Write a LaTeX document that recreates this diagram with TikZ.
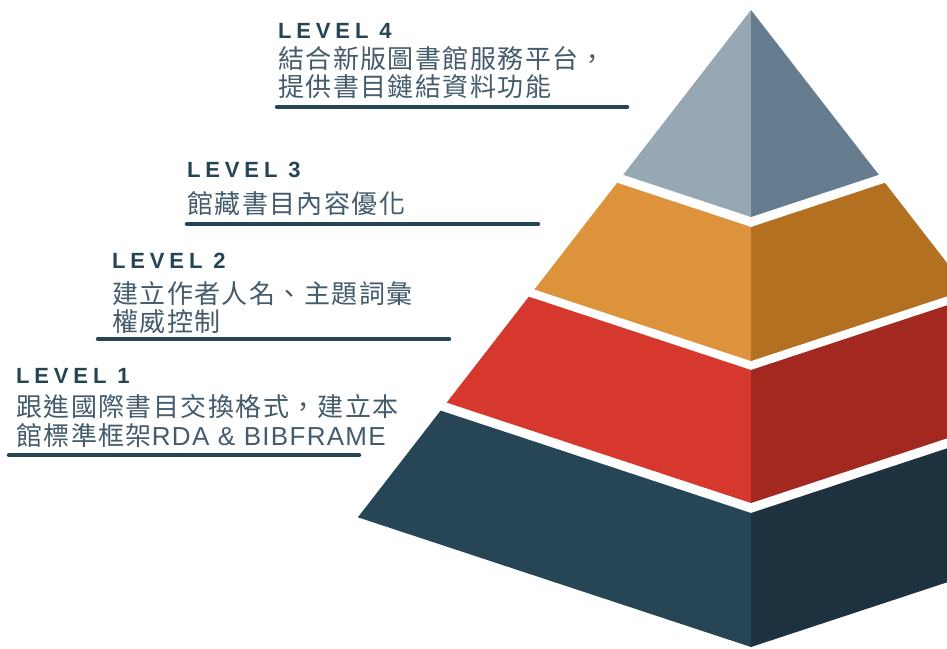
\documentclass[tikz,border=0pt]{standalone}
\usepackage{fontspec}
\setmainfont{Liberation Sans}
\newfontfamily\cjkf[LetterSpace=5.5]{Noto Sans CJK TC}
\newfontfamily\latf[LetterSpace=5]{Liberation Sans}
\newfontfamily\lvlf[LetterSpace=22]{Liberation Sans Bold}
\definecolor{txtdark}{HTML}{264554}
\definecolor{txtgray}{HTML}{435B6B}
\definecolor{gryL}{HTML}{95A8B4}
\definecolor{gryR}{HTML}{667D8F}
\definecolor{orgL}{HTML}{DD923C}
\definecolor{orgR}{HTML}{B37021}
\definecolor{redL}{HTML}{D6382E}
\definecolor{redR}{HTML}{A22820}
\definecolor{drkL}{HTML}{264555}
\definecolor{drkR}{HTML}{1D323E}
\tikzset{
  lvl/.style={anchor=base west, inner sep=0pt, text=txtdark, font=\lvlf\fontsize{22}{25}\selectfont},
  desc/.style={anchor=base west, inner sep=0pt, text=txtgray, font=\cjkf\fontsize{26}{30}\selectfont},
  uline/.style={draw=txtdark, line width=4.5pt, line cap=round},
}
\begin{document}
\begin{tikzpicture}[x=1pt,y=-1pt]
\useasboundingbox (0,0) rectangle (947,648);
\clip (0,0) rectangle (947,648);
% pyramid: gray top
\fill[gryL] (751,10) -- (623.2,174.8) -- (751,217) -- cycle;
\fill[gryR] (751,10) -- (878.8,174.8) -- (751,217) -- cycle;
% orange
\fill[orgL] (751,227) -- (617.1,182.8) -- (534.4,289.5) -- (751,361) -- cycle;
\fill[orgR] (751,227) -- (884.9,182.8) -- (967.6,289.5) -- (751,361) -- cycle;
% red
\fill[redL] (751,370) -- (528.8,296.7) -- (446.7,402.6) -- (751,503) -- cycle;
\fill[redR] (751,370) -- (973.2,296.7) -- (1055.3,402.6) -- (751,503) -- cycle;
% dark
\fill[drkL] (751,513) -- (440.6,410.6) -- (357.9,517.3) -- (751,647) -- cycle;
\fill[drkR] (751,513) -- (1061.4,410.6) -- (1144.1,517.3) -- (751,647) -- cycle;

% Level 4
\node[lvl] (l4) at (278,38.5) {LEVEL 4};
\node[desc] (d4a) at (278,68) {結合新版圖書館服務平台，};
\node[desc] (d4b) at (278,96) {提供書目鏈結資料功能};
\coordinate (u4a) at (277,107); \coordinate (u4b) at (627,107);
\draw[uline] (u4a) -- (u4b);
% Level 3
\node[lvl] (l3) at (187,177.5) {LEVEL 3};
\node[desc] (d3a) at (187,213) {館藏書目內容優化};
\coordinate (u3a) at (187,224); \coordinate (u3b) at (538,224);
\draw[uline] (u3a) -- (u3b);
% Level 2
\node[lvl] (l2) at (112,268.5) {LEVEL 2};
\node[desc] (d2a) at (112,303) {建立作者人名、主題詞彙};
\node[desc] (d2b) at (112,331) {權威控制};
\coordinate (u2a) at (98,339); \coordinate (u2b) at (449,339);
\draw[uline] (u2a) -- (u2b);
% Level 1
\node[lvl] (l1) at (16,383.5) {LEVEL 1};
\node[desc] (d1a) at (16,416) {跟進國際書目交換格式，建立本};
\node[desc] (d1b) at (16,445) {館標準框架{\latf RDA \& BIBFRAME}};
\coordinate (u1a) at (9,455); \coordinate (u1b) at (359,455);
\draw[uline] (u1a) -- (u1b);
\end{tikzpicture}
\end{document}
